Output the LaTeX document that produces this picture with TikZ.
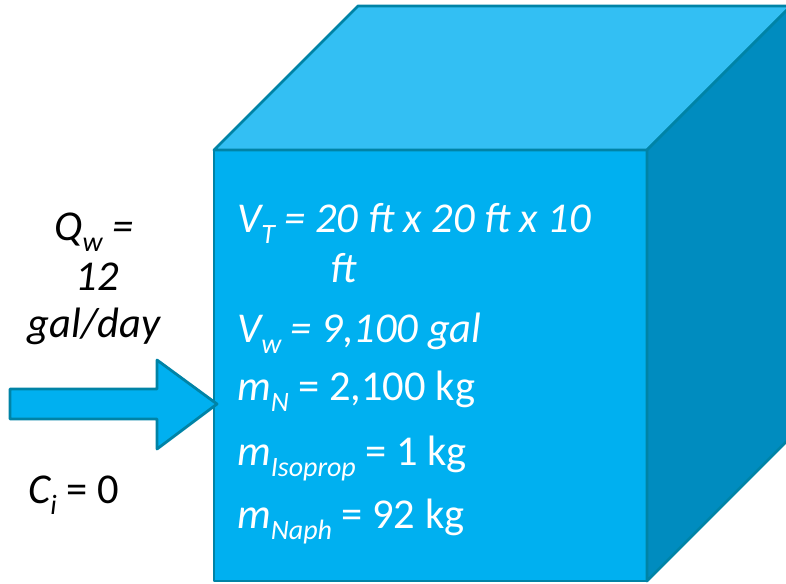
\documentclass[tikz,border=0pt]{standalone}
\usepackage{fontspec}
\setmainfont{Carlito}
\definecolor{boxfront}{HTML}{00B0F0}
\definecolor{boxtop}{HTML}{33BFF3}
\definecolor{boxside}{HTML}{008CBF}
\definecolor{boxline}{HTML}{0083A6}
\newcommand{\lowsub}[1]{\raisebox{-0.28em}{\fontsize{28}{28}\selectfont #1}}

\begin{document}
\begin{tikzpicture}[x=1pt, y=-1pt, line join=round,
  face/.style={draw=boxline, line width=2.8pt},
  boxtext/.style={anchor=base west, inner sep=0pt, text=white, font=\fontsize{42.5}{42.5}\selectfont},
  sidetext/.style={anchor=base, inner sep=0pt, font=\fontsize{42.5}{42.5}\selectfont}]
% Rahmen
\useasboundingbox (0,0) rectangle (786,583);
\clip (0,0) rectangle (786,583);

% Behälter (Quader)
\draw[face, fill=boxfront] (214,150) rectangle (647,581);
\draw[face, fill=boxtop] (214,150) -- (358,6) -- (791,6) -- (647,150) -- cycle;
\draw[face, fill=boxside] (647,150) -- (791,6) -- (791,437) -- (647,581) -- cycle;

% Zufluss-Pfeil
\draw[face, fill=boxfront] (10,389) -- (157,389) -- (157,360) -- (217,404)
  -- (157,449) -- (157,419) -- (10,419) -- cycle;

% Zufluss
\node[sidetext] (qw) at (94,240) {\itshape Q\lowsub{w} =};
\node[sidetext] (qnum) at (97,290) {\itshape 12};
\node[sidetext] (qunit) at (94,337) {\itshape gal/day};
\node[sidetext, anchor=base west] (ci) at (28,503) {\itshape C\lowsub{i}\upshape{} = 0};

% Inhalt
\node[boxtext] (vt) at (237,232) {\itshape V\lowsub{T} = 20 ft x 20 ft x 10};
\node[boxtext] (vtft) at (330,282) {\itshape ft};
\node[boxtext] (vw) at (237,342) {\itshape V\lowsub{w} = 9,100 gal};
\node[boxtext] (mn) at (237,400) {\itshape m\lowsub{N}\upshape{} = 2,100 kg};
\node[boxtext] (miso) at (237,465) {\itshape m\lowsub{Isoprop}\upshape{} = 1 kg};
\node[boxtext] (mnaph) at (237,528) {\itshape m\lowsub{Naph}\upshape{} = 92 kg};
\end{tikzpicture}
\end{document}
